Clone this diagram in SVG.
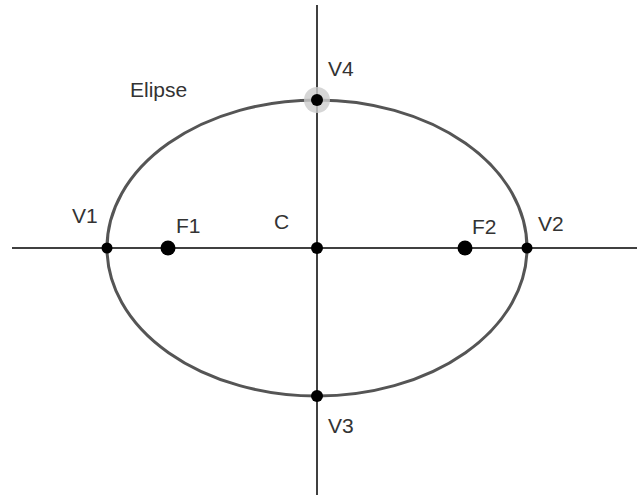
<svg xmlns="http://www.w3.org/2000/svg" width="637" height="495" viewBox="0 0 637 495">
<style>
.lbl{font-family:"Liberation Sans",Arial,sans-serif;font-size:21px;fill:#333}
.pt{fill:#000}
</style>
<rect width="637" height="495" fill="#fff"/>
<g id="axes">
<line x1="12" y1="248" x2="637" y2="248" stroke="#000" stroke-width="1.5"/>
<line x1="317" y1="5" x2="317" y2="495" stroke="#000" stroke-width="1.5"/>
</g>
<g id="ellipse">
<ellipse cx="317" cy="248" rx="210" ry="148" fill="none" stroke="#555" stroke-width="3"/>
<text class="lbl" x="130" y="97">Elipse</text>
</g>
<g id="V4">
<circle cx="317" cy="100" r="13" fill="#ccc" opacity="0.8"/>
<circle class="pt" cx="317" cy="100" r="6"/>
<text class="lbl" x="328" y="76">V4</text>
</g>
<g id="V1">
<circle class="pt" cx="107" cy="248" r="5.5"/>
<text class="lbl" x="72" y="223">V1</text>
</g>
<g id="F1">
<circle class="pt" cx="168" cy="248" r="7.5"/>
<text class="lbl" x="176" y="233">F1</text>
</g>
<g id="C">
<circle class="pt" cx="317" cy="248" r="6"/>
<text class="lbl" x="274" y="229">C</text>
</g>
<g id="F2">
<circle class="pt" cx="465" cy="248" r="7.5"/>
<text class="lbl" x="472" y="234">F2</text>
</g>
<g id="V2">
<circle class="pt" cx="527" cy="248" r="5.5"/>
<text class="lbl" x="538" y="231">V2</text>
</g>
<g id="V3">
<circle class="pt" cx="317" cy="396" r="6"/>
<text class="lbl" x="328" y="433">V3</text>
</g>
</svg>
